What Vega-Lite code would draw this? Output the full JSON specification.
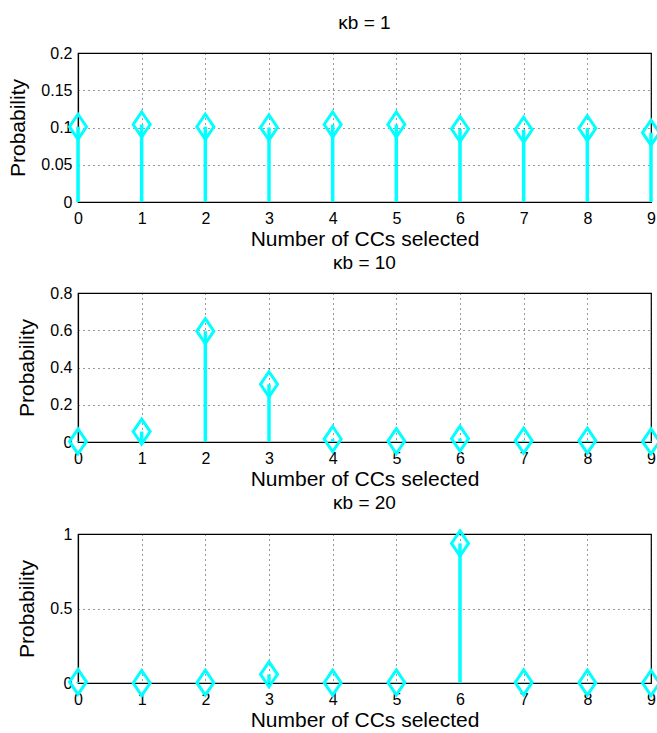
{
  "$schema": "https://vega.github.io/schema/vega-lite/v6.json",
  "padding": {"left": 7, "top": 13, "right": 0, "bottom": 5},
  "background": "white",
  "spacing": 3,
  "datasets": {
    "d": [
      {"kappa": 1, "n": 0, "p": 0.101}, {"kappa": 1, "n": 1, "p": 0.104}, {"kappa": 1, "n": 2, "p": 0.101},
      {"kappa": 1, "n": 3, "p": 0.100}, {"kappa": 1, "n": 4, "p": 0.104}, {"kappa": 1, "n": 5, "p": 0.104},
      {"kappa": 1, "n": 6, "p": 0.098}, {"kappa": 1, "n": 7, "p": 0.097}, {"kappa": 1, "n": 8, "p": 0.099},
      {"kappa": 1, "n": 9, "p": 0.093},
      {"kappa": 10, "n": 0, "p": 0.003}, {"kappa": 10, "n": 1, "p": 0.056}, {"kappa": 10, "n": 2, "p": 0.595},
      {"kappa": 10, "n": 3, "p": 0.31}, {"kappa": 10, "n": 4, "p": 0.016}, {"kappa": 10, "n": 5, "p": 0.005},
      {"kappa": 10, "n": 6, "p": 0.018}, {"kappa": 10, "n": 7, "p": 0.007}, {"kappa": 10, "n": 8, "p": 0.007},
      {"kappa": 10, "n": 9, "p": 0.003},
      {"kappa": 20, "n": 0, "p": 0.007}, {"kappa": 20, "n": 1, "p": 0.0}, {"kappa": 20, "n": 2, "p": 0.002},
      {"kappa": 20, "n": 3, "p": 0.058}, {"kappa": 20, "n": 4, "p": 0.002}, {"kappa": 20, "n": 5, "p": 0.004},
      {"kappa": 20, "n": 6, "p": 0.937}, {"kappa": 20, "n": 7, "p": 0.004}, {"kappa": 20, "n": 8, "p": 0.002},
      {"kappa": 20, "n": 9, "p": 0.0}
    ]
  },
  "vconcat": [
    {
      "width": 573, "height": 149,
      "title": {"text": "κb = 1"},
      "data": {"name": "d"},
      "transform": [{"filter": "datum.kappa == 1"}],
      "encoding": {
        "x": {"field": "n", "type": "quantitative", "scale": {"domain": [0, 9], "nice": false, "zero": false}, "axis": {"values": [0,1,2,3,4,5,6,7,8,9], "format": "d", "title": "Number of CCs selected"}},
        "y": {"field": "p", "type": "quantitative", "scale": {"domain": [0, 0.2], "nice": false}, "axis": {"values": [0, 0.05, 0.1, 0.15, 0.2], "format": "~g", "title": "Probability"}}
      },
      "layer": [
        {"mark": {"type": "rule", "color": "#00FFFF", "strokeWidth": 3.5, "clip": false}, "encoding": {"y2": {"datum": 0}}},
        {"mark": {"type": "point", "shape": "M0,-1L0.68,0L0,1L-0.68,0Z", "filled": false, "stroke": "#00FFFF", "strokeWidth": 3, "size": 625, "opacity": 1, "clip": false}}
      ]
    },
    {
      "width": 573, "height": 149,
      "title": {"text": "κb = 10"},
      "data": {"name": "d"},
      "transform": [{"filter": "datum.kappa == 10"}],
      "encoding": {
        "x": {"field": "n", "type": "quantitative", "scale": {"domain": [0, 9], "nice": false, "zero": false}, "axis": {"values": [0,1,2,3,4,5,6,7,8,9], "format": "d", "title": "Number of CCs selected"}},
        "y": {"field": "p", "type": "quantitative", "scale": {"domain": [0, 0.8], "nice": false}, "axis": {"values": [0, 0.2, 0.4, 0.6, 0.8], "format": "~g", "title": "Probability"}}
      },
      "layer": [
        {"mark": {"type": "rule", "color": "#00FFFF", "strokeWidth": 3.5, "clip": false}, "encoding": {"y2": {"datum": 0}}},
        {"mark": {"type": "point", "shape": "M0,-1L0.68,0L0,1L-0.68,0Z", "filled": false, "stroke": "#00FFFF", "strokeWidth": 3, "size": 625, "opacity": 1, "clip": false}}
      ]
    },
    {
      "width": 573, "height": 149,
      "title": {"text": "κb = 20"},
      "data": {"name": "d"},
      "transform": [{"filter": "datum.kappa == 20"}],
      "encoding": {
        "x": {"field": "n", "type": "quantitative", "scale": {"domain": [0, 9], "nice": false, "zero": false}, "axis": {"values": [0,1,2,3,4,5,6,7,8,9], "format": "d", "title": "Number of CCs selected"}},
        "y": {"field": "p", "type": "quantitative", "scale": {"domain": [0, 1], "nice": false}, "axis": {"values": [0, 0.5, 1], "format": "~g", "title": "Probability"}}
      },
      "layer": [
        {"mark": {"type": "rule", "color": "#00FFFF", "strokeWidth": 3.5, "clip": false}, "encoding": {"y2": {"datum": 0}}},
        {"mark": {"type": "point", "shape": "M0,-1L0.68,0L0,1L-0.68,0Z", "filled": false, "stroke": "#00FFFF", "strokeWidth": 3, "size": 625, "opacity": 1, "clip": false}}
      ]
    }
  ],
  "config": {
    "font": "Liberation Sans",
    "view": {"stroke": "#000000", "strokeWidth": 1.2},
    "title": {"fontSize": 19, "fontWeight": "normal", "color": "#000", "offset": 12, "font": "Liberation Sans"},
    "axis": {
      "domainColor": "#000", "domainWidth": 1.2,
      "ticks": false,
      "labelFontSize": 16, "labelColor": "#000", "labelFont": "Liberation Sans",
      "titleFontSize": 21, "titleFontWeight": "normal", "titleColor": "#000", "titleFont": "Liberation Sans",
      "gridColor": "#000", "gridDash": [1, 4], "gridOpacity": 0.8, "gridWidth": 1
    },
    "axisX": {"labelPadding": 8, "titlePadding": 2, "labelFlush": false},
    "axisY": {"labelPadding": 6, "titlePadding": 12, "labelFlush": false}
  }
}
